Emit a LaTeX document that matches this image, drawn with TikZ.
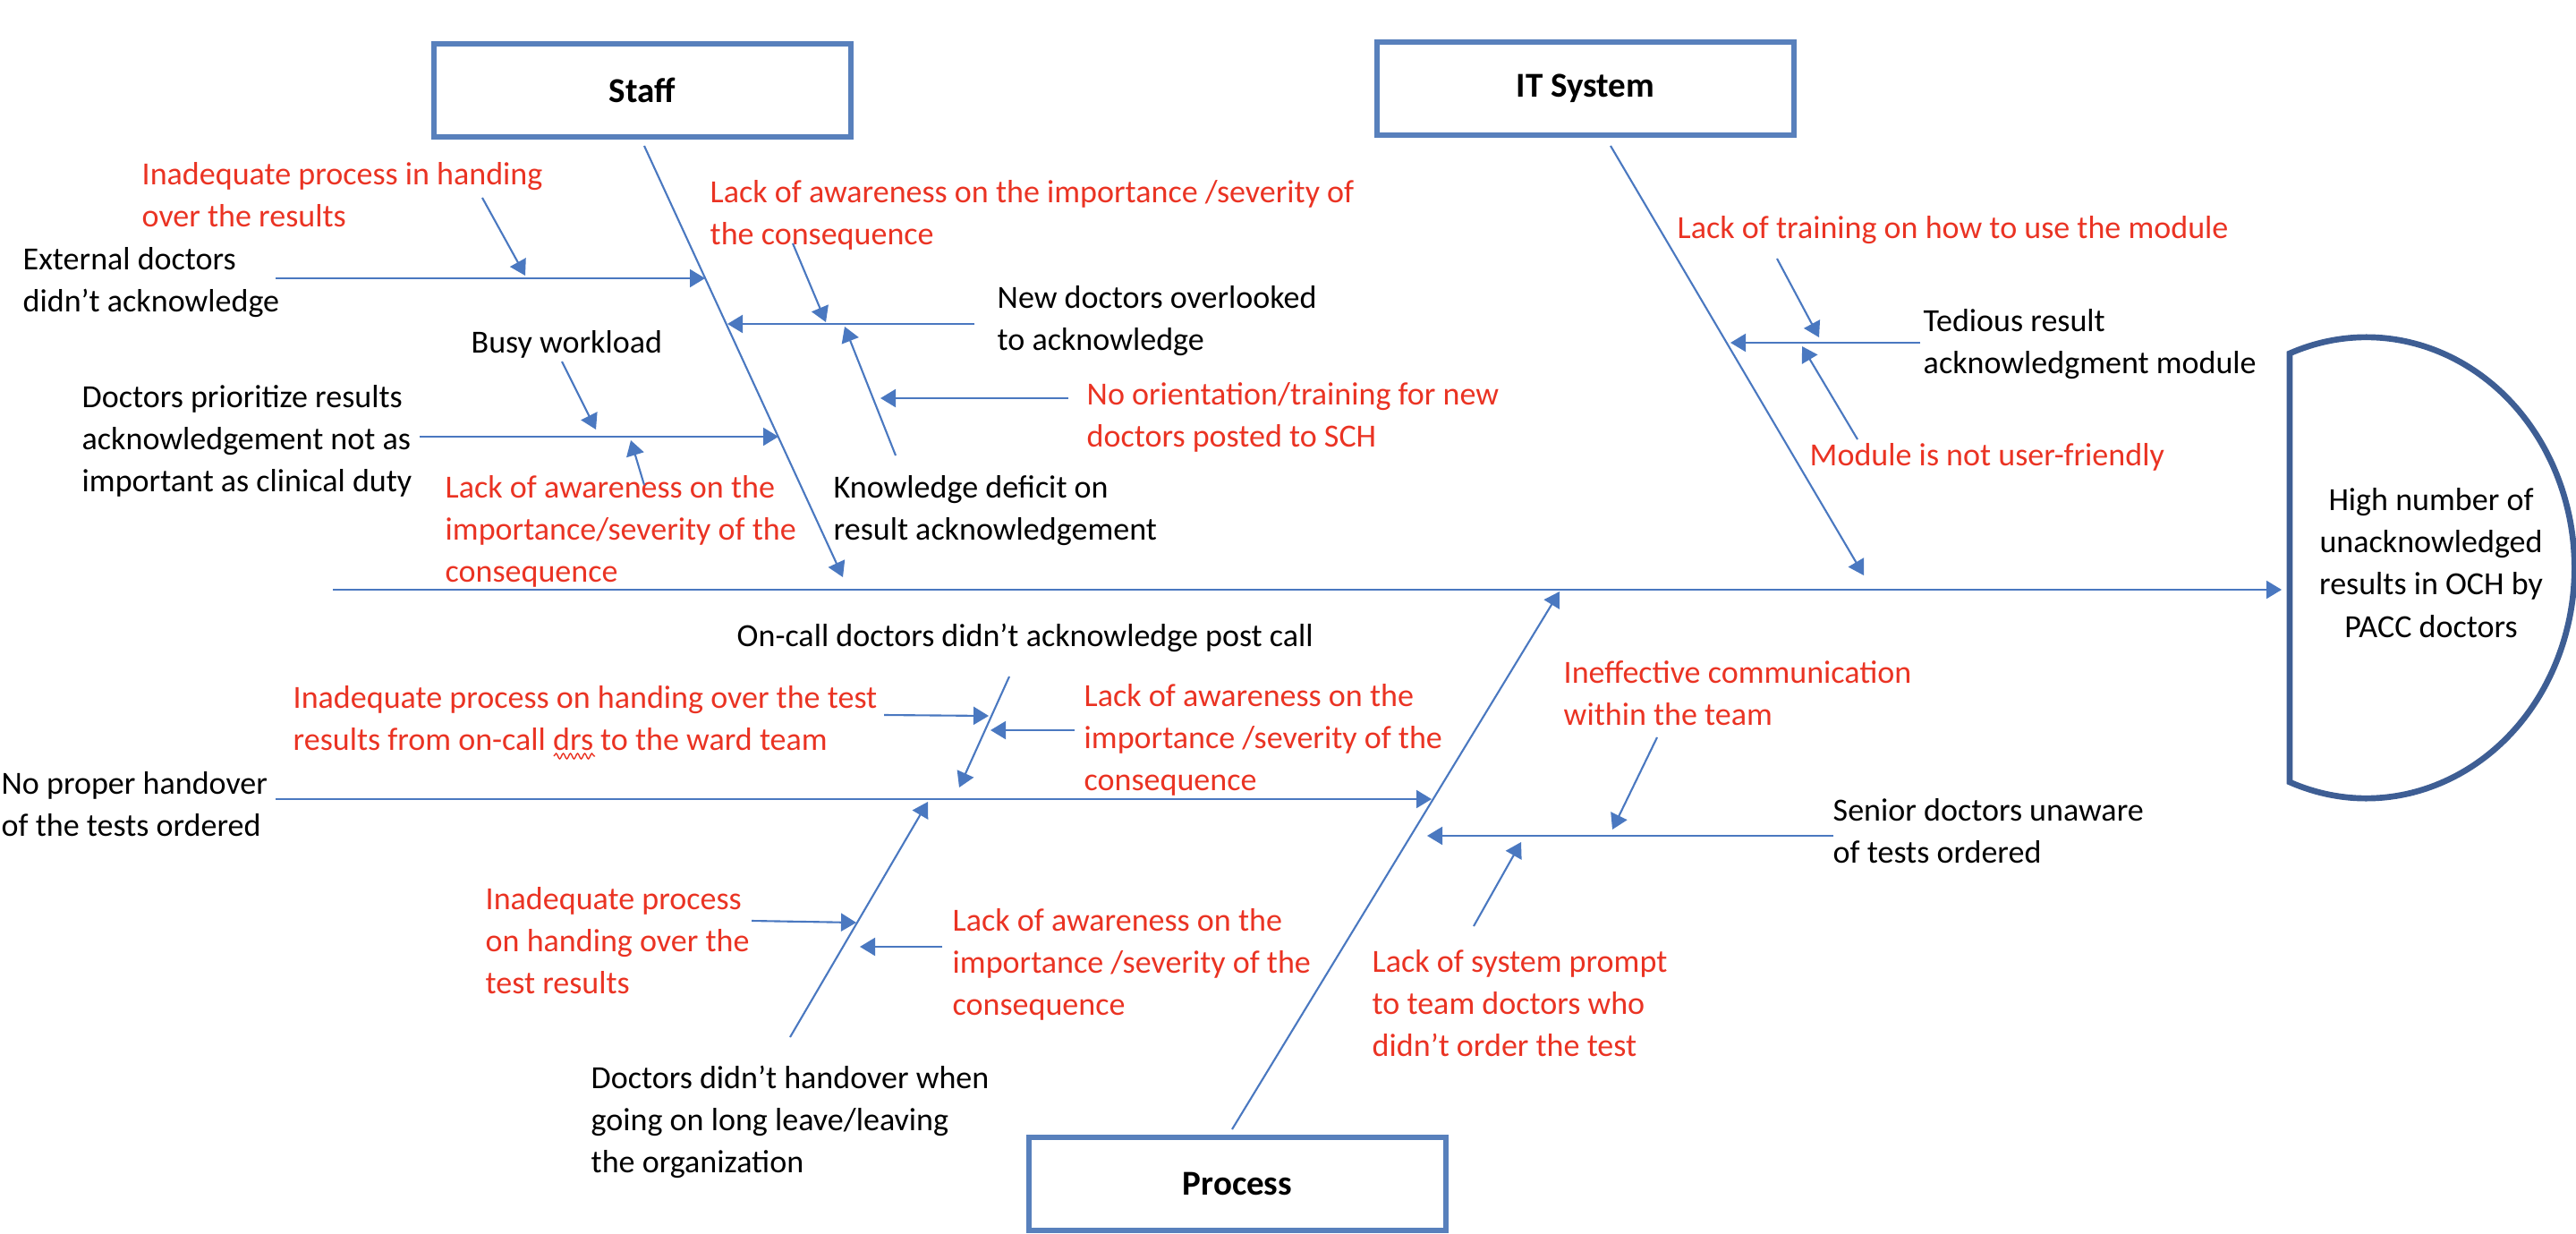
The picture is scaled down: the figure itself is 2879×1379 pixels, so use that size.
\documentclass[tikz,border=0pt]{standalone}
\usepackage{fontspec}
\setmainfont{Carlito}
\usepackage{tikz}
\usetikzlibrary{arrows.meta,decorations.pathmorphing}
\definecolor{boxblue}{RGB}{88,128,188}
\definecolor{lineblue}{RGB}{74,120,192}
\definecolor{headblue}{RGB}{62,94,148}
\definecolor{redtxt}{RGB}{234,51,35}
\tikzstyle{catbox} = [draw=boxblue, line width=1.85pt, minimum width=4.66cm,
    minimum height=1.04cm, inner sep=0pt, font=\bfseries\fontsize{11.1}{13.5}\selectfont]
\tikzstyle{cause} = [anchor=west, align=left, inner sep=0pt,
    font=\fontsize{10.25}{13.4}\selectfont]
\tikzstyle{redcause} = [cause, text=redtxt]
\tikzstyle{bone} = [draw=lineblue, line width=0.6pt, -{Triangle[length=0.17cm,width=0.2cm]}]

\begin{document}
\begin{tikzpicture}[x=0.01cm, y=-0.01cm]
  \useasboundingbox (0,0) rectangle (2879,1379);
  % Place nodes
  \node [catbox] (staff) at (718,101) {Staff};
  \node [catbox] (it) at (1772,99) {IT System};
  \node [catbox] (process) at (1383,1323) {Process};
  \draw [headblue, line width=1.9pt] (2559,874)
    arc[start angle=-111.6, end angle=111.6, x radius=2.325cm, y radius=2.575cm] -- cycle;
  \node [cause, anchor=center, align=center] (effect) at (2717,629)
    {High number of\\unacknowledged\\results in OCH by\\PACC doctors};

  % staff
  \node [cause] (ext) at (25,316) {External doctors\\didn't acknowledge};
  \node [redcause] (extR) at (158,218) {Inadequate process in handing\\over the results};
  \node [cause] (newdoc) at (1114,359) {New doctors overlooked\\to acknowledge};
  \node [redcause] (newdocR) at (793,240) {Lack of awareness on the importance /severity of\\the consequence};
  \node [cause] (knowdef) at (931,571) {Knowledge deficit on\\result acknowledgement};
  \node [redcause] (knowdefR) at (1214,466) {No orientation/training for new\\doctors posted to SCH};
  \node [cause] (prio) at (91,493) {Doctors prioritize results\\acknowledgement not as\\important as clinical duty};
  \node [cause] (busy) at (526,385) {Busy workload};
  \node [redcause] (prioR) at (497,594) {Lack of awareness on the\\importance/severity of the\\consequence};

  % it system
  \node [cause] (tedious) at (2149,385) {Tedious result\\acknowledgment module};
  \node [redcause] (tediousR1) at (1874,257) {Lack of training on how to use the module};
  \node [redcause] (tediousR2) at (2022,511) {Module is not user-friendly};

  % process
  \node [cause] (handover) at (1,899) {No proper handover\\of the tests ordered};
  \node [cause] (oncall) at (823,713) {On-call doctors didn't acknowledge post call};
  \node [redcause] (oncallR1) at (327,803) {Inadequate process on handing over the test\\results from on-call drs to the ward team};
  \node [redcause] (oncallR2) at (1211,827) {Lack of awareness on the\\importance /severity of the\\consequence};
  \node [cause] (leave) at (660,1254) {Doctors didn't handover when\\going on long leave/leaving\\the organization};
  \node [redcause] (leaveR1) at (542,1051) {Inadequate process\\on handing over the\\test results};
  \node [redcause] (leaveR2) at (1064,1078) {Lack of awareness on the\\importance /severity of the\\consequence};
  \node [cause] (senior) at (2048,929) {Senior doctors unaware\\of tests ordered};
  \node [redcause] (seniorR1) at (1747,775) {Ineffective communication\\within the team};
  \node [redcause] (seniorR2) at (1533,1121) {Lack of system prompt\\to team doctors who\\didn't order the test};
  % spelling wave under drs
  \draw [redtxt, line width=0.4pt, decorate,
    decoration={snake, amplitude=0.03cm, segment length=0.08cm}] (619,845) -- (665,845);

  % line ends
  \coordinate (sp0) at (372,659);
  \coordinate (sp1) at (2550,659);
  \coordinate (staffT) at (720,163);
  \coordinate (staffE) at (942,645);
  \coordinate (extS) at (308,311);
  \coordinate (extE) at (788,311);
  \coordinate (extRS) at (539,221);
  \coordinate (extRE) at (587,308);
  \coordinate (newS) at (1089,362);
  \coordinate (newE) at (813,362);
  \coordinate (newRS) at (886,272);
  \coordinate (newRE) at (923,360);
  \coordinate (kdS) at (1001,509);
  \coordinate (kdE) at (944,365);
  \coordinate (kdRS) at (1194,445);
  \coordinate (kdRE) at (984,445);
  \coordinate (prioS) at (469,488);
  \coordinate (prioE) at (870,488);
  \coordinate (busyS) at (628,404);
  \coordinate (busyE) at (666,480);
  \coordinate (prioRS) at (720,542);
  \coordinate (prioRE) at (705,492);
  \coordinate (itT) at (1800,163);
  \coordinate (itE) at (2083,643);
  \coordinate (tedS) at (2146,383);
  \coordinate (tedE) at (1934,383);
  \coordinate (tedR1S) at (1986,289);
  \coordinate (tedR1E) at (2033,377);
  \coordinate (tedR2S) at (2076,491);
  \coordinate (tedR2E) at (2014,387);
  \coordinate (procB) at (1377,1262);
  \coordinate (procE) at (1743,661);
  \coordinate (hoS) at (308,893);
  \coordinate (hoE) at (1600,893);
  \coordinate (ocS) at (1128,756);
  \coordinate (ocE) at (1072,880);
  \coordinate (ocR1S) at (988,799);
  \coordinate (ocR1E) at (1105,800);
  \coordinate (ocR2S) at (1201,816);
  \coordinate (ocR2E) at (1107,816);
  \coordinate (lvS) at (883,1159);
  \coordinate (lvE) at (1037,896);
  \coordinate (lvR1S) at (840,1029);
  \coordinate (lvR1E) at (957,1031);
  \coordinate (lvR2S) at (1053,1058);
  \coordinate (lvR2E) at (961,1058);
  \coordinate (srS) at (2049,934);
  \coordinate (srE) at (1595,934);
  \coordinate (srR1S) at (1852,824);
  \coordinate (srR1E) at (1802,927);
  \coordinate (srR2S) at (1647,1035);
  \coordinate (srR2E) at (1700,941);

  % bones
  \draw [bone] (sp0) -- (sp1);
  \draw [bone] (staffT) -- (staffE);
  \draw [bone] (itT) -- (itE);
  \draw [bone] (procB) -- (procE);
  \draw [bone] (extS) -- (extE);
  \draw [bone] (extRS) -- (extRE);
  \draw [bone] (newS) -- (newE);
  \draw [bone] (newRS) -- (newRE);
  \draw [bone] (kdS) -- (kdE);
  \draw [bone] (kdRS) -- (kdRE);
  \draw [bone] (prioS) -- (prioE);
  \draw [bone] (busyS) -- (busyE);
  \draw [bone] (prioRS) -- (prioRE);
  \draw [bone] (tedS) -- (tedE);
  \draw [bone] (tedR1S) -- (tedR1E);
  \draw [bone] (tedR2S) -- (tedR2E);
  \draw [bone] (hoS) -- (hoE);
  \draw [bone] (ocS) -- (ocE);
  \draw [bone] (ocR1S) -- (ocR1E);
  \draw [bone] (ocR2S) -- (ocR2E);
  \draw [bone] (lvS) -- (lvE);
  \draw [bone] (lvR1S) -- (lvR1E);
  \draw [bone] (lvR2S) -- (lvR2E);
  \draw [bone] (srS) -- (srE);
  \draw [bone] (srR1S) -- (srR1E);
  \draw [bone] (srR2S) -- (srR2E);
\end{tikzpicture}
\end{document}
